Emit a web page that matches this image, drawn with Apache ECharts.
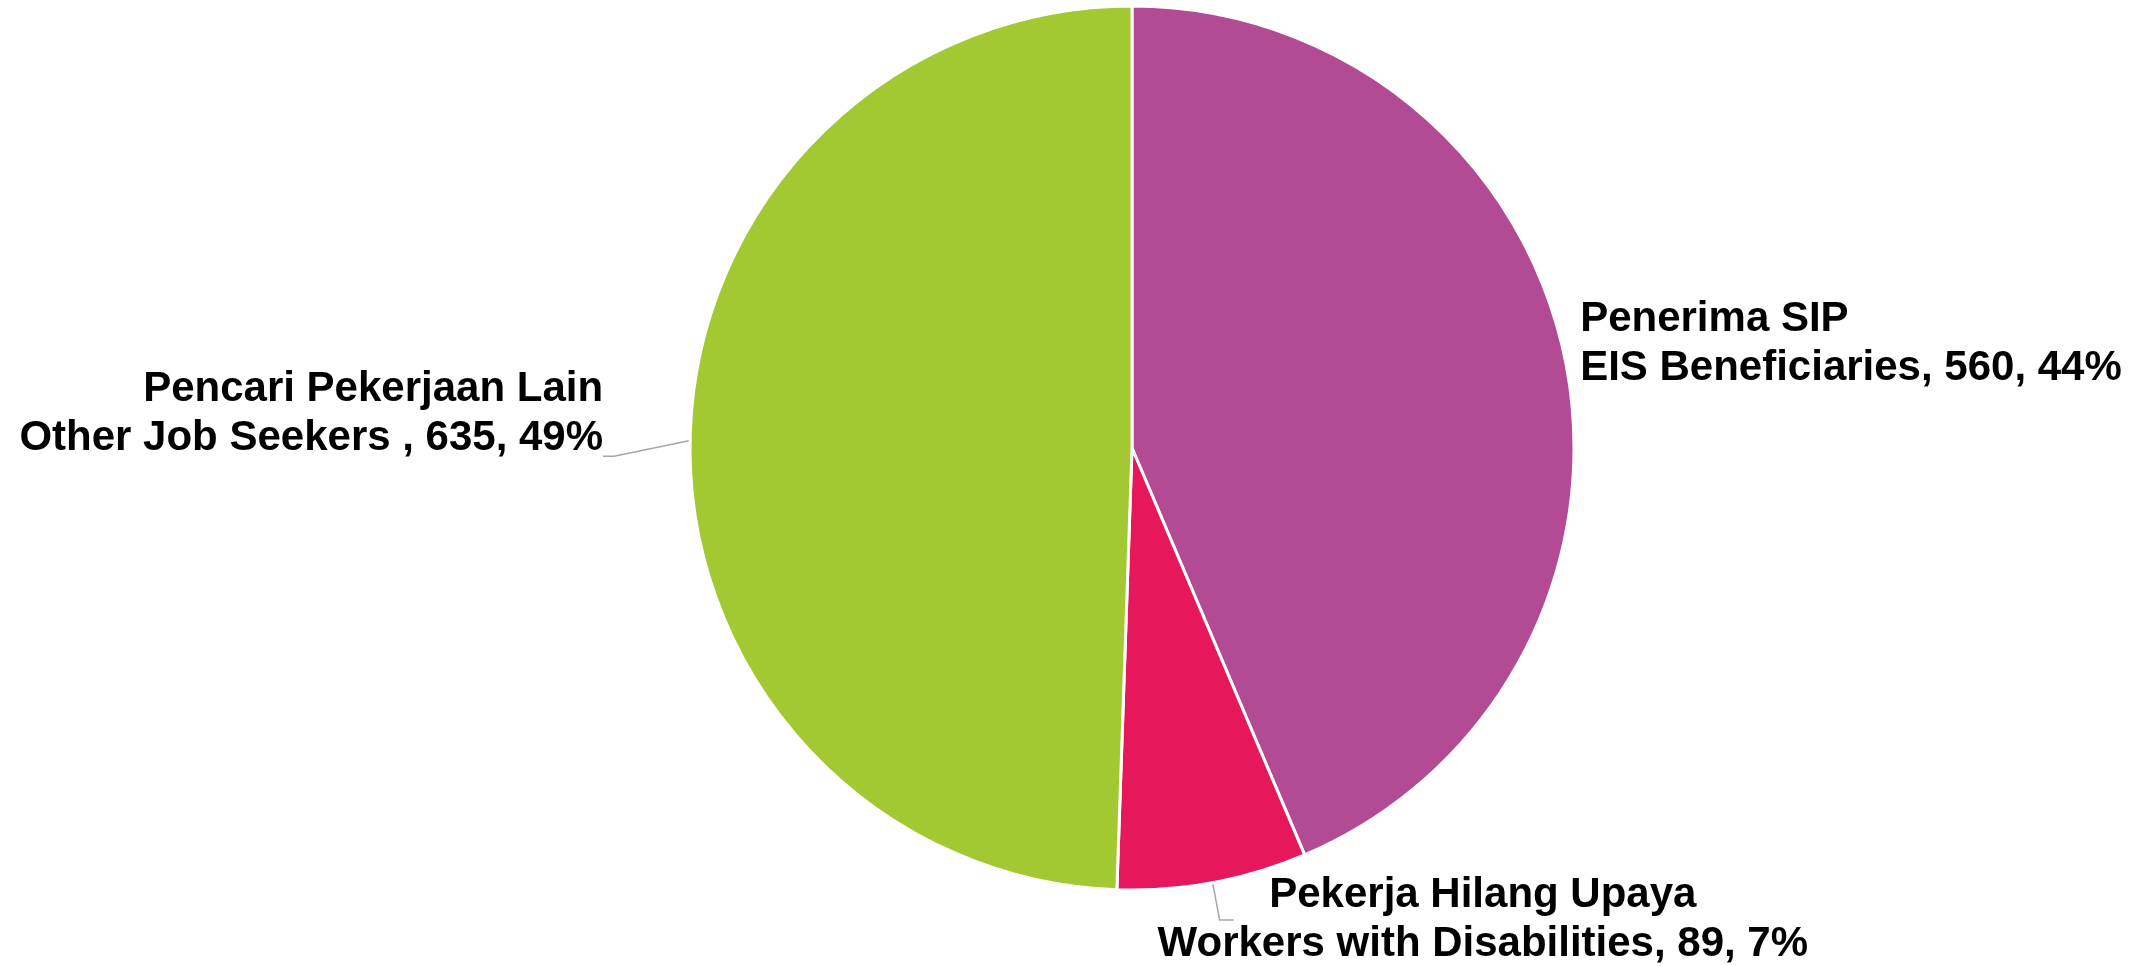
<!DOCTYPE html>
<html>
<head>
<meta charset="utf-8">
<script src="https://cdn.jsdelivr.net/npm/echarts@6/dist/echarts.min.js"></script>
<style>
  html, body { margin: 0; padding: 0; background: #fff; }
  #chart { width: 2149px; height: 966px; }
</style>
</head>
<body>
<div id="chart"></div>
<script>
// 数据
var namesId = ['Penerima SIP', 'Pekerja Hilang Upaya', 'Pencari Pekerjaan Lain'];
var namesEn = ['EIS Beneficiaries', 'Workers with Disabilities', 'Other Job Seekers '];
var values = [560, 89, 635];

var colors = ['#B24B94', '#E6175A', '#A2C931'];

var chart = echarts.init(document.getElementById('chart'));

var fontBase = {
  fontFamily: 'Liberation Sans, Arial, sans-serif',
  fontSize: 42,
  fontWeight: 'bold',
  color: '#000',
  lineHeight: 49
};

// per slice label tweaks
var itemLabel = [
  { line: { show: false, length: 0, length2: 0 }, dist: 15, lineAlign: 'left' },
  { line: { show: true, length: 38, length2: 14 }, dist: 0, lineAlign: 'center' },
  { line: { show: true, length: 76, length2: 11 }, dist: 0, lineAlign: 'right' }
];

var data = values.map(function (v, i) {
  var cfg = itemLabel[i];
  return {
    name: namesId[i],
    value: v,
    itemStyle: { color: colors[i] },
    labelLine: {
      show: cfg.line.show,
      length: cfg.line.length,
      length2: cfg.line.length2,
      lineStyle: { color: '#A6A6A6', width: 1.5 }
    },
    label: {
      distanceToLabelLine: cfg.dist,
      rich: {
        a: Object.assign({ align: cfg.lineAlign }, fontBase),
        b: Object.assign({ align: cfg.lineAlign }, fontBase)
      }
    }
  };
});

var option = {
  animation: false,
  series: [{
    type: 'pie',
    center: [1132, 448],
    radius: 442,
    startAngle: 90,
    clockwise: true,
    percentPrecision: 0,
    avoidLabelOverlap: false,
    itemStyle: { borderColor: '#fff', borderWidth: 3 },
    emphasis: { disabled: true },
    label: {
      show: true,
      position: 'outside',
      fontFamily: fontBase.fontFamily,
      fontSize: 42,
      fontWeight: 'bold',
      color: '#000',
      lineHeight: 49,
      formatter: function (p) {
        var i = p.dataIndex;
        return '{a|' + namesId[i] + '}\n{b|' + namesEn[i] + ', ' + p.value + ', ' + p.percent + '%}';
      }
    },
    labelLine: { smooth: false },
    labelLayout: function (p) {
      if (p.dataIndex === 0) return { dy: -16 };
      if (p.dataIndex === 1) return { dx: -76 };
      var pts = p.labelLinePoints;
      var res = { dy: -25 };
      if (pts) {
        res.labelLinePoints = [pts[0], [pts[1][0], pts[1][1] + 17], [pts[2][0], pts[2][1] + 17]];
      }
      return res;
    },
    data: data
  }]
};

chart.setOption(option);
</script>
</body>
</html>
